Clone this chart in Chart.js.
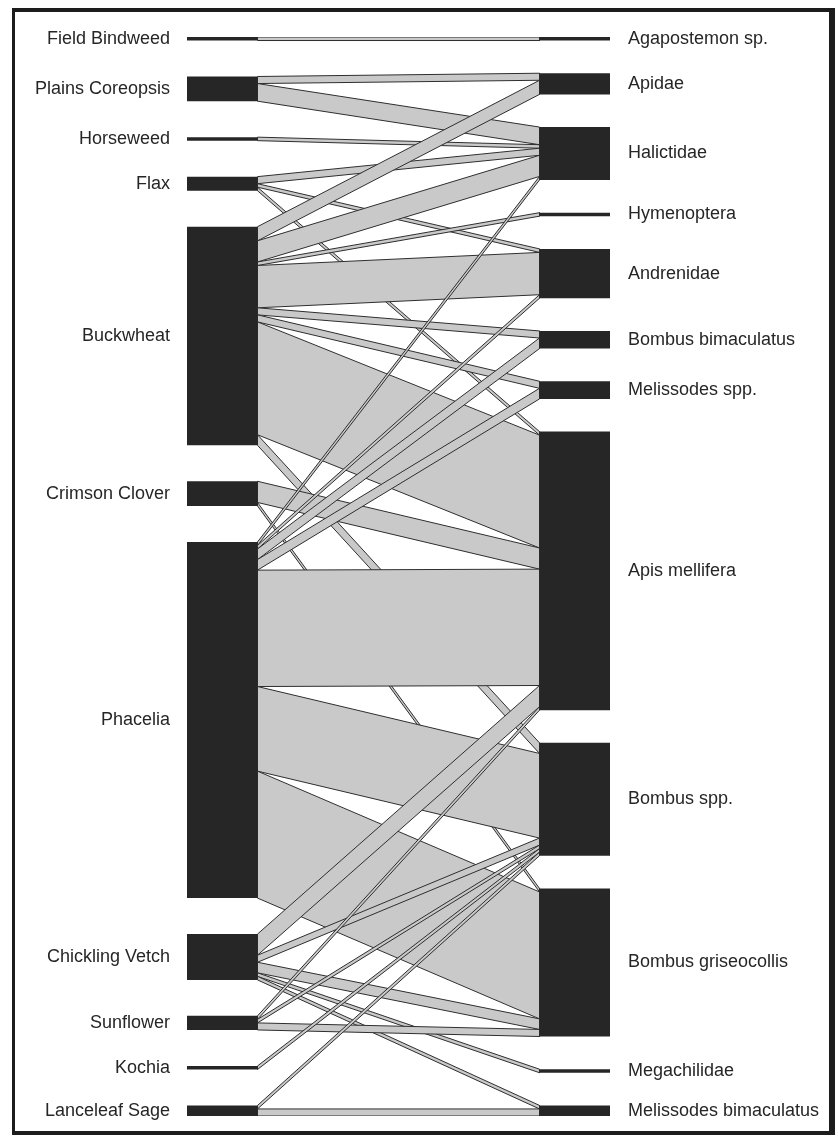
<!DOCTYPE html>
<html>
<head>
<meta charset="utf-8">
<script src="https://cdn.jsdelivr.net/npm/chart.js@4.4.1/dist/chart.umd.min.js"></script>
<style>
  html, body { margin: 0; padding: 0; background: #ffffff; }
  #wrap { position: relative; width: 838px; height: 1138px; background: #ffffff; }
  #c { position: absolute; left: 0; top: 0; }
  #frame {
    position: absolute; left: 12px; top: 8px; width: 823px; height: 1127px;
    box-sizing: border-box; border-style: solid; border-color: #1c1c1c;
    border-width: 4px 6px 4px 3px; pointer-events: none;
  }
</style>
</head>
<body>
<div id="wrap">
  <canvas id="c" width="838" height="1138"></canvas>
  <div id="frame"></div>
</div>
<script>
// ---------- data ----------
const plants = ["Field Bindweed", "Plains Coreopsis", "Horseweed", "Flax", "Buckwheat",
  "Crimson Clover", "Phacelia", "Chickling Vetch", "Sunflower", "Kochia", "Lanceleaf Sage"];

const pollinators = ["Agapostemon sp.", "Apidae", "Halictidae", "Hymenoptera", "Andrenidae",
  "Bombus bimaculatus", "Melissodes spp.", "Apis mellifera", "Bombus spp.",
  "Bombus griseocollis", "Megachilidae", "Melissodes bimaculatus"];

// visits of each plant, in the pollinator order above
const fieldBindweed   = [1, 0, 0, 0, 0, 0, 0, 0, 0, 0, 0, 0];
const plainsCoreopsis = [0, 2, 5, 0, 0, 0, 0, 0, 0, 0, 0, 0];
const horseweed       = [0, 0, 1, 0, 0, 0, 0, 0, 0, 0, 0, 0];
const flax            = [0, 0, 2, 0, 1, 0, 0, 1, 0, 0, 0, 0];
const buckwheat       = [0, 4, 6, 1, 12, 2, 2, 32, 3, 0, 0, 0];
const crimsonClover   = [0, 0, 0, 0, 0, 0, 0, 6, 0, 1, 0, 0];
const phacelia        = [0, 0, 1, 0, 1, 3, 3, 33, 24, 36, 0, 0];
const chicklingVetch  = [0, 0, 0, 0, 0, 0, 0, 6, 2, 3, 1, 1];
const sunflower       = [0, 0, 0, 0, 0, 0, 0, 1, 1, 2, 0, 0];
const kochia          = [0, 0, 0, 0, 0, 0, 0, 0, 1, 0, 0, 0];
const lanceleafSage   = [0, 0, 0, 0, 0, 0, 0, 0, 1, 0, 0, 2];

const web = [fieldBindweed, plainsCoreopsis, horseweed, flax, buckwheat, crimsonClover,
  phacelia, chicklingVetch, sunflower, kochia, lanceleafSage];

// ---------- layout (in data units) ----------
const BAR_W = 0.2;            // bar width as a share of the distance between the two columns
const GAP_SHARE = 0.5;        // total gap space relative to total visits

const plantTotals = web.map(r => r.reduce((a, b) => a + b, 0));
const polTotals = pollinators.map((_, j) => web.reduce((a, r) => a + r[j], 0));
const TOTAL = plantTotals.reduce((a, b) => a + b, 0);
const SPAN = TOTAL * (1 + GAP_SHARE);
const gapL = (SPAN - TOTAL) / (plants.length - 1);
const gapR = (SPAN - TOTAL) / (pollinators.length - 1);

function stackPositions(totals, gap) {
  const starts = [];
  let y = 0;
  totals.forEach(t => { starts.push(y); y += t + gap; });
  return starts;
}
const plantStart = stackPositions(plantTotals, gapL);
const polStart = stackPositions(polTotals, gapR);
const plantCenters = plantStart.map((s, i) => s + plantTotals[i] / 2);
const polCenters = polStart.map((s, j) => s + polTotals[j] / 2);

// ---------- datasets ----------
const BAR_COLOR = "#262626";
const LINK_FILL = "#c9c9c9";
const LINK_LINE = "#2e2e2e";

const datasets = [];
datasets.push({
  type: "bar", label: "plants", order: 0, grouped: false,
  backgroundColor: BAR_COLOR, borderWidth: 0,
  categoryPercentage: BAR_W, barPercentage: 1,
  data: plants.map((_, i) => ({ x: 0, y: [plantStart[i], plantStart[i] + plantTotals[i]] }))
});
datasets.push({
  type: "bar", label: "pollinators", order: 0, grouped: false,
  backgroundColor: BAR_COLOR, borderWidth: 0,
  categoryPercentage: BAR_W, barPercentage: 1,
  data: pollinators.map((_, j) => ({ x: 1, y: [polStart[j], polStart[j] + polTotals[j]] }))
});

const linkList = [];
const pCur = plantStart.slice();
const qCur = polStart.slice();
web.forEach((row, i) => {
  row.forEach((v, j) => {
    if (v > 0) {
      linkList.push({ l0: pCur[i], l1: pCur[i] + v, r0: qCur[j], r1: qCur[j] + v });
      pCur[i] += v; qCur[j] += v;
    }
  });
});
const xL = BAR_W / 2, xR = 1 - BAR_W / 2;
linkList.forEach((k, n) => {
  datasets.push({
    type: "line", label: "link" + n, order: linkList.length - n,
    fill: "shape", backgroundColor: LINK_FILL, borderColor: LINK_LINE, borderWidth: 1,
    pointRadius: 0, tension: 0,
    data: [{ x: xL, y: k.l0 }, { x: xR, y: k.r0 }, { x: xR, y: k.r1 }, { x: xL, y: k.l1 }, { x: xL, y: k.l0 }]
  });
});

const labelFont = { family: "'Liberation Sans', Arial, sans-serif", size: 18 };

new Chart(document.getElementById("c"), {
  type: "bar",
  data: { datasets },
  options: {
    responsive: false,
    animation: false,
    events: [],
    layout: { padding: { top: 37, bottom: 22, left: 0, right: 0 } },
    plugins: { legend: { display: false }, tooltip: { enabled: false } },
    scales: {
      x: {
        type: "linear", min: -BAR_W / 2, max: 1 + BAR_W / 2, offset: false, display: false,
        afterBuildTicks: s => { s.ticks = [{ value: 0 }, { value: 1 }]; }
      },
      y: {
        type: "linear", position: "left", min: 0, max: SPAN, reverse: true,
        grid: { display: false, drawTicks: false }, border: { display: false },
        afterBuildTicks: s => { s.ticks = plantCenters.map(v => ({ value: v })); },
        afterFit: s => { s.width = 187; s.paddingTop = 0; s.paddingBottom = 0; },
        ticks: { autoSkip: false, padding: 17, color: "#262626", font: labelFont,
          callback: (v, i) => plants[i] }
      },
      y2: {
        type: "linear", position: "right", min: 0, max: SPAN, reverse: true,
        grid: { display: false, drawTicks: false }, border: { display: false },
        afterBuildTicks: s => { s.ticks = polCenters.map(v => ({ value: v })); },
        afterFit: s => { s.width = 228; s.paddingTop = 0; s.paddingBottom = 0; },
        ticks: { autoSkip: false, padding: 18, color: "#262626", font: labelFont,
          callback: (v, i) => pollinators[i] }
      }
    }
  }
});
</script>
</body>
</html>
